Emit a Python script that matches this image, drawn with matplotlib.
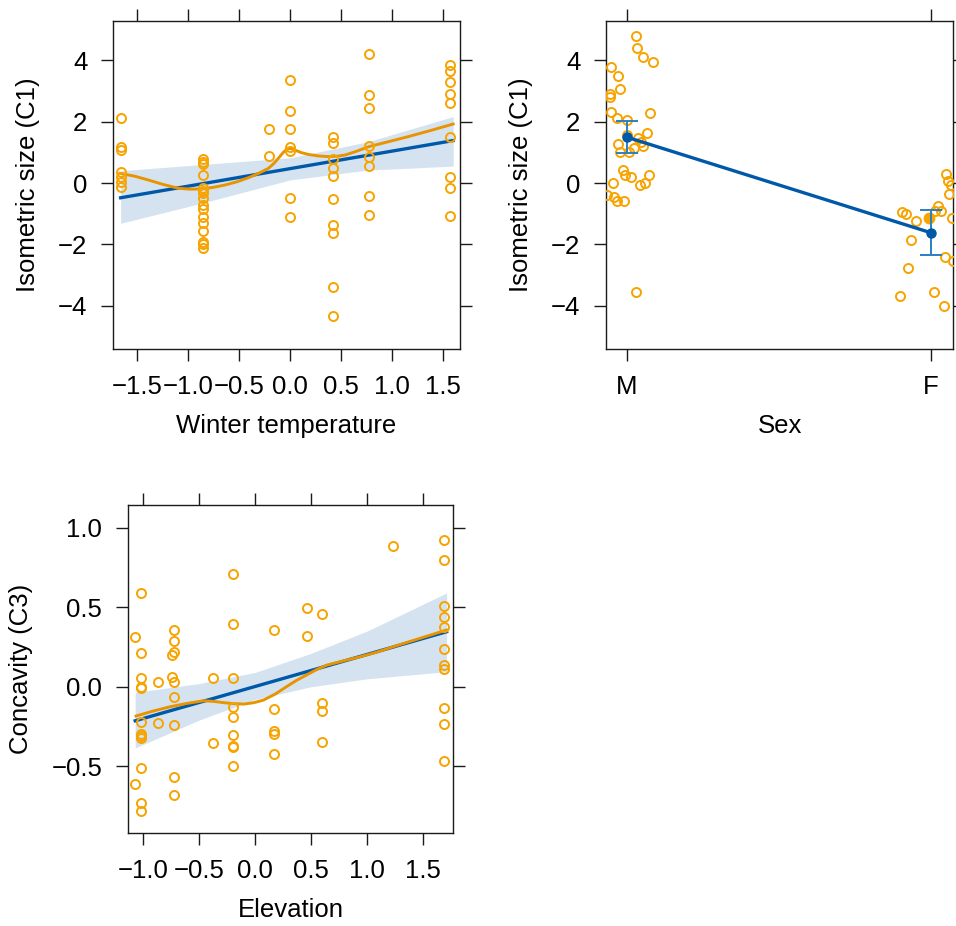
import numpy as np
import matplotlib
matplotlib.use('Agg')
import matplotlib.pyplot as plt

# 字体设置：Arial 风格
plt.rcParams['font.family'] = ['Liberation Sans', 'DejaVu Sans']
plt.rcParams['axes.unicode_minus'] = True

# 颜色
PT_COLOR = '#F7A300'
LOESS_COLOR = '#E89400'
FIT_COLOR = '#0058A8'
BAND_COLOR = '#D5E3F1'
ERR_COLOR = '#2A7FC2'

# ---- 面板 1：冬季温度 vs 等距大小 ----
winter_temp = [-1.66, -1.66, -1.66, -1.66, -1.66, -1.66, -1.66,
               -0.85, -0.85, -0.85, -0.85, -0.85, -0.85, -0.85, -0.85,
               -0.85, -0.85, -0.85, -0.85, -0.85, -0.85, -0.85, -0.85,
               -0.21, -0.21,
               0.0, 0.0, 0.0, 0.0, 0.0, 0.0, 0.0,
               0.42, 0.42, 0.42, 0.42, 0.42, 0.42, 0.42, 0.42, 0.42, 0.42,
               0.77, 0.77, 0.77, 0.77, 0.77, 0.77, 0.77, 0.77,
               1.57, 1.57, 1.57, 1.57, 1.57, 1.57, 1.57, 1.57, 1.57]
size_c1 = [2.10, 1.18, 1.07, 0.37, 0.21, 0.04, -0.12,
           0.78, 0.69, 0.62, 0.26, -0.17, -0.25, -0.34, -0.50,
           -0.72, -0.86, -1.10, -1.29, -1.56, -1.91, -1.98, -2.13,
           1.75, 0.88,
           3.35, 2.35, 1.77, 1.18, 1.04, -0.48, -1.11,
           1.51, 1.31, 0.77, 0.48, 0.24, -0.52, -1.37, -1.62, -3.37, -4.33,
           4.20, 2.87, 2.45, 1.20, 0.84, 0.55, -0.41, -1.04,
           3.84, 3.65, 3.28, 2.90, 2.61, 1.51, 0.21, -0.15, -1.06]

temp_fit_x = [-1.66, 1.60]
temp_fit_y = [-0.48, 1.38]
temp_band_x = [-1.66, -0.87, 0.0, 0.76, 1.60]
temp_band_lo = [-1.31, -0.66, 0.10, 0.42, 0.55]
temp_band_hi = [0.40, 0.60, 0.82, 1.34, 2.16]
temp_loess_x = [-1.667, -1.52, -1.39, -1.24, -1.095, -0.98, -0.866, -0.75,
                -0.637, -0.52, -0.41, -0.31, -0.21, -0.16, -0.115, -0.07,
                -0.032, 0.0, 0.05, 0.11, 0.18, 0.28, 0.375, 0.46, 0.54,
                0.65, 0.77, 0.96, 1.16, 1.38, 1.60]
temp_loess_y = [0.315, 0.22, 0.10, -0.05, -0.17, -0.20, -0.195, -0.14,
                -0.065, 0.04, 0.17, 0.31, 0.48, 0.63, 0.80, 0.98,
                1.10, 1.13, 1.07, 0.99, 0.93, 0.88, 0.86, 0.87, 0.91,
                1.03, 1.18, 1.34, 1.51, 1.71, 1.92]

# ---- 面板 2：性别 ----
sex_labels = ['M', 'F']
male_x = [1.031, 1.033, 1.051, 1.087, 0.947, 0.970, 0.978, 0.945, 0.945,
          1.074, 0.947, 0.967, 1.000, 1.067, 1.000, 1.036, 1.047, 0.970,
          1.054, 1.022, 0.978, 1.005, 0.986, 0.992, 1.073, 1.013, 0.954,
          1.042, 1.060, 0.956, 0.967, 0.989, 1.028, 0.934]
male_y = [4.79, 4.38, 4.10, 3.95, 3.79, 3.48, 3.07, 2.90, 2.79,
          2.29, 2.30, 2.10, 2.05, 1.64, 1.56, 1.45, 1.34, 1.26,
          1.20, 1.15, 1.02, 1.02, 0.42, 0.26, 0.26, 0.18, -0.01,
          -0.07, -0.01, -0.44, -0.59, -0.59, -3.56, -0.39]
female_x = [2.048, 2.054, 2.065, 2.059, 1.904, 1.918, 1.949, 2.024, 2.013,
            2.032, 2.070, 1.933, 2.044, 2.073, 1.924, 1.896, 2.008, 2.043]
female_y = [0.29, 0.07, -0.07, -0.36, -0.93, -1.01, -1.24, -0.74, -0.90,
            -0.90, -1.15, -1.85, -2.42, -2.54, -2.75, -3.67, -3.54, -4.00]
female_extra = (1.993, -1.15)
sex_mean = [1.49, -1.62]
sex_lower = [0.99, -2.34]
sex_upper = [2.03, -0.88]

# ---- 面板 3：海拔 vs 凹度 ----
elevation = [-1.074, -1.074,
             -1.02, -1.02, -1.02, -1.02, -1.02, -1.02, -1.02, -1.02, -1.02,
             -1.02, -1.02, -1.02,
             -0.866, -0.866,
             -0.741, -0.741,
             -0.72, -0.72, -0.72, -0.72, -0.72, -0.72, -0.72, -0.72,
             -0.375, -0.375,
             -0.199, -0.199, -0.199, -0.199, -0.199, -0.199, -0.199, -0.199, -0.199,
             0.167, 0.167, 0.167, 0.167, 0.167,
             0.464, 0.464,
             0.598, 0.598, 0.598, 0.598,
             1.229,
             1.69, 1.69, 1.69, 1.69, 1.69, 1.69, 1.69, 1.69, 1.69, 1.69, 1.69]
concavity = [0.310, -0.612,
             0.587, 0.214, 0.052, 0.0, -0.010, -0.220, -0.294, -0.310, -0.325,
             -0.514, -0.734, -0.780,
             0.027, -0.226,
             0.199, 0.063,
             0.358, 0.287, 0.216, 0.027, -0.067, -0.241, -0.566, -0.681,
             0.057, -0.356,
             0.707, 0.392, 0.057, -0.126, -0.189, -0.306, -0.371, -0.377, -0.497,
             0.354, -0.140, -0.277, -0.298, -0.421,
             0.493, 0.319,
             0.455, -0.101, -0.153, -0.348,
             0.885,
             0.920, 0.797, 0.509, 0.440, 0.373, 0.239, 0.134, 0.109, -0.136,
             -0.233, -0.465]

elev_fit_x = [-1.07, 1.71]
elev_fit_y = [-0.214, 0.346]
elev_band_x = [-1.07, -0.5, 0.0, 0.5, 1.0, 1.71]
elev_band_lo = [-0.385, -0.21, -0.08, 0.0, 0.05, 0.095]
elev_band_hi = [-0.035, 0.02, 0.09, 0.21, 0.35, 0.59]
elev_loess_x = [-1.0625, -0.91, -0.76, -0.61, -0.46, -0.37, -0.28, -0.19,
                -0.10, -0.01, 0.075, 0.18, 0.28, 0.37, 0.46, 0.55, 0.64,
                0.79, 0.94, 1.09, 1.235, 1.47, 1.71]
elev_loess_y = [-0.184, -0.153, -0.126, -0.105, -0.088, -0.092, -0.10, -0.106,
                -0.109, -0.100, -0.084, -0.046, 0.0, 0.040, 0.074, 0.108, 0.136,
                0.163, 0.189, 0.218, 0.252, 0.304, 0.357]


def style_axes(ax):
    """lattice 风格：四边刻度朝外，只在左/下标注"""
    for sp in ax.spines.values():
        sp.set_linewidth(1.0)
        sp.set_color('#1a1a1a')
    ax.tick_params(direction='out', length=8.5, width=1.0, color='#1a1a1a',
                   top=True, right=True, labeltop=False, labelright=False,
                   labelsize=18.5, pad=10)


def points(ax, x, y):
    ax.plot(x, y, 'o', ls='none', ms=6.5, mfc='none', mec=PT_COLOR, mew=1.4, zorder=4)


fig = plt.figure(figsize=(9.56, 9.26), dpi=100)

# 面板 1
ax1 = fig.add_axes([0.1182, 0.6231, 0.363, 0.3542])
ax1.fill_between(temp_band_x, temp_band_lo, temp_band_hi, color=BAND_COLOR, lw=0, zorder=1)
ax1.plot(temp_fit_x, temp_fit_y, color=FIT_COLOR, lw=2.4, zorder=2)
ax1.plot(temp_loess_x, temp_loess_y, color=LOESS_COLOR, lw=2.1, zorder=3)
points(ax1, winter_temp, size_c1)
ax1.set_xlim(-1.735, 1.667)
ax1.set_ylim(-5.4, 5.27)
ax1.set_xticks([-1.5, -1.0, -0.5, 0.0, 0.5, 1.0, 1.5])
ax1.set_xticklabels(['\u22121.5', '\u22121.0', '\u22120.5', '0.0', '0.5', '1.0', '1.5'])
ax1.set_yticks([-4, -2, 0, 2, 4])
ax1.set_xlabel('Winter temperature', fontsize=18.5, labelpad=11)
ax1.set_ylabel('Isometric size (C1)', fontsize=18.5, labelpad=13)
style_axes(ax1)

# 面板 2
ax2 = fig.add_axes([0.6339, 0.6231, 0.363, 0.3542])
points(ax2, male_x, male_y)
points(ax2, female_x, female_y)
ax2.plot([female_extra[0]], [female_extra[1]], 'o', ms=7.5, color=PT_COLOR, zorder=4)
sex_pos = [1, 2]
yerr = [np.array(sex_mean) - np.array(sex_lower), np.array(sex_upper) - np.array(sex_mean)]
ax2.errorbar(sex_pos, sex_mean, yerr=yerr, fmt='none', ecolor=ERR_COLOR,
             elinewidth=1.4, capsize=8, capthick=1.4, zorder=5)
ax2.plot(sex_pos, sex_mean, color=FIT_COLOR, lw=2.4, marker='o', ms=6.5, zorder=6)
ax2.set_xlim(0.931, 2.072)
ax2.set_ylim(-5.4, 5.27)
ax2.set_xticks(sex_pos)
ax2.set_xticklabels(sex_labels)
ax2.set_yticks([-4, -2, 0, 2, 4])
ax2.set_xlabel('Sex', fontsize=18.5, labelpad=11)
ax2.set_ylabel('Isometric size (C1)', fontsize=18.5, labelpad=13)
style_axes(ax2)

# 面板 3
ax3 = fig.add_axes([0.1339, 0.1004, 0.340, 0.3542])
ax3.fill_between(elev_band_x, elev_band_lo, elev_band_hi, color=BAND_COLOR, lw=0, zorder=1)
ax3.plot(elev_fit_x, elev_fit_y, color=FIT_COLOR, lw=2.4, zorder=2)
ax3.plot(elev_loess_x, elev_loess_y, color=LOESS_COLOR, lw=2.1, zorder=3)
points(ax3, elevation, concavity)
ax3.set_xlim(-1.134, 1.768)
ax3.set_ylim(-0.92, 1.143)
ax3.set_xticks([-1.0, -0.5, 0.0, 0.5, 1.0, 1.5])
ax3.set_xticklabels(['\u22121.0', '\u22120.5', '0.0', '0.5', '1.0', '1.5'])
ax3.set_yticks([-0.5, 0.0, 0.5, 1.0])
ax3.set_yticklabels(['\u22120.5', '0.0', '0.5', '1.0'])
ax3.set_xlabel('Elevation', fontsize=18.5, labelpad=11)
ax3.set_ylabel('Concavity (C3)', fontsize=18.5, labelpad=13)
style_axes(ax3)

fig.savefig('out.png', dpi=100, facecolor='white')
